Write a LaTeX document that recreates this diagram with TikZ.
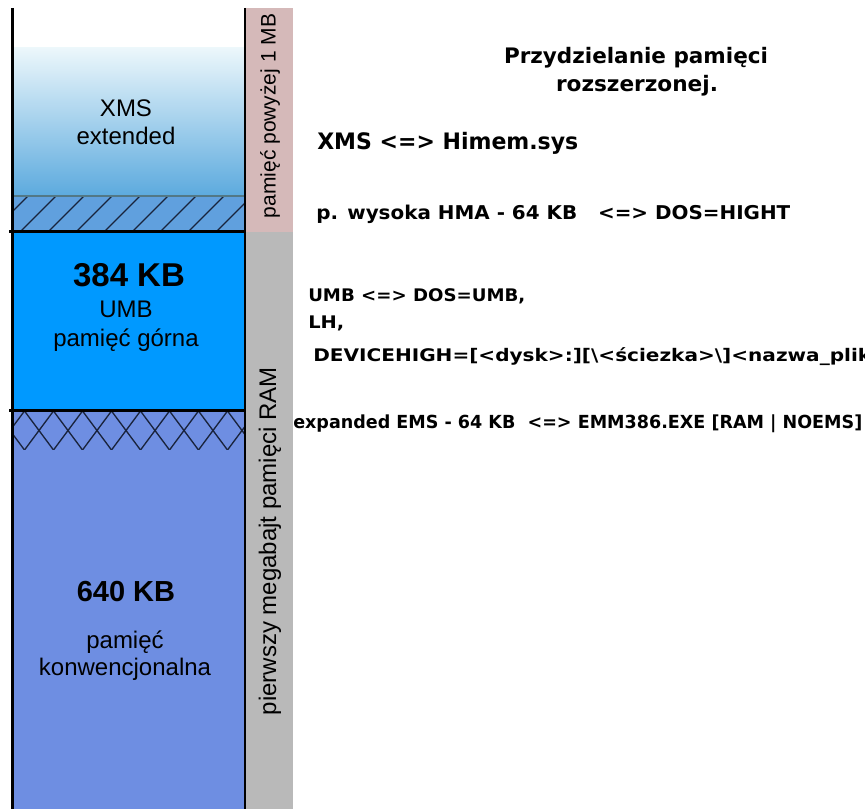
\documentclass[tikz,border=0pt]{standalone}
\usepackage{fontspec}
\usepackage{graphicx}
\setmainfont{Liberation Sans}
\newfontfamily\pixfont{DejaVu Sans}

\definecolor{xmstop}{RGB}{236,247,251}
\definecolor{xmsbot}{RGB}{92,170,222}
\definecolor{hmafill}{RGB}{96,160,222}
\definecolor{hmaline}{RGB}{82,120,134}
\definecolor{umbfill}{RGB}{0,153,255}
\definecolor{convfill}{RGB}{110,142,226}
\definecolor{pinkbar}{RGB}{213,185,185}
\definecolor{graybar}{RGB}{185,185,185}
\definecolor{hatchcol}{RGB}{25,35,60}

\newcommand{\fs}[1]{\fontsize{#1}{#1}\selectfont}
\newcommand{\wtext}[2]{\resizebox{#1}{\height}{#2}}

\begin{document}
\begin{tikzpicture}[x=0.75pt, y=-0.75pt,
  lbl/.style={anchor=base, inner sep=0pt},
  cmd/.style={anchor=base west, inner sep=0pt}]

\useasboundingbox (0,0) rectangle (865,809);
\fill[white] (0,0) rectangle (865,809);

% memory column
\shade[top color=xmstop, bottom color=xmsbot] (12,48) rectangle (245,196);
\fill[hmafill] (12,196) rectangle (245,232);
\fill[umbfill] (12,232) rectangle (245,410);
\fill[convfill] (12,410) rectangle (245,809);

% HMA hatch
\begin{scope}
  \clip (12,197) rectangle (245,232);
  \foreach \i in {0,...,9}
    \draw[hatchcol, line width=1pt] (\i*28-8,232) -- ++(36,-36);
\end{scope}
\draw[hmaline, line width=1.5pt] (12,196) -- (245,196);

% EMS cross hatch
\begin{scope}
  \clip (12,411) rectangle (245,450);
  \foreach \i in {0,...,8}
    \draw[hatchcol, line width=1pt] (\i*29-4.5,411) -- ++(29,39)
                                     (\i*29+24.5,411) -- ++(-29,39);
\end{scope}

% side bars
\fill[pinkbar] (245,8) rectangle (293,232);
\fill[graybar] (245,232) rectangle (293,809);

% borders
\draw[line width=2.25pt] (12,8) -- (12,809);
\draw[line width=1.5pt] (245,8) -- (245,809);
\draw[line width=2.25pt] (9,232) -- (245,232);
\draw[line width=2.25pt] (9,410.5) -- (245,410.5);

% column labels
\node[lbl, font=\fs{18pt}] (xmsa) at (126,117) {XMS};
\node[lbl, font=\fs{18pt}] (xmsb) at (126,145) {extended};
\node[lbl, font=\bfseries\fs{24.75pt}] (umbsize) at (129,287) {384 KB};
\node[lbl, font=\fs{18pt}] (umba) at (126,318) {UMB};
\node[lbl, font=\fs{18pt}] (umbb) at (126,347) {pamięć górna};
\node[lbl, font=\bfseries\fs{21.75pt}] (convsize) at (126,601) {640 KB};
\node[lbl, font=\fs{18pt}] (conva) at (125,648) {pamięć};
\node[lbl, font=\fs{18pt}] (convb) at (125,675) {konwencjonalna};

\node[rotate=90, inner sep=0pt, font=\fs{15.75pt}] (above1mb) at (270,116) {pamięć powyżej 1 MB};
\node[rotate=90, inner sep=0pt, font=\fs{18pt}] (firstmb) at (270,541) {pierwszy megabajt pamięci RAM};

% commands
\begin{scope}
\clip (0,0) rectangle (865,809);
\node[lbl, font=\pixfont\bfseries\fs{16pt}] (titlea) at (636,64) {\wtext{198pt}{Przydzielanie pamięci}};
\node[lbl, font=\pixfont\bfseries\fs{16pt}] (titleb) at (637,92) {\wtext{121.5pt}{rozszerzonej.}};
\node[cmd, font=\pixfont\bfseries\fs{17pt}] (himem) at (317,150) {\wtext{195.75pt}{XMS <=> Himem.sys}};
\node[cmd, font=\pixfont\bfseries\fs{14.25pt}] (hma) at (316,220) {\wtext{355.5pt}{p. wysoka HMA - 64 KB~~~<=> DOS=HIGHT}};
\node[cmd, font=\pixfont\bfseries\fs{13pt}] (umbcmd) at (308,302) {\wtext{162.75pt}{UMB <=> DOS=UMB,}};
\node[cmd, font=\pixfont\bfseries\fs{13pt}] (lhcmd) at (308,329) {\wtext{27pt}{LH,}};
\node[cmd, font=\pixfont\bfseries\fs{13pt}] (devhigh) at (313,362) {\wtext{441.75pt}{DEVICEHIGH=[<dysk>:][\textbackslash<ściezka>\textbackslash]<nazwa\_pliku>}};
\node[cmd, font=\pixfont\bfseries\fs{13.5pt}] (emscmd) at (293,429) {\wtext{426.75pt}{expanded EMS - 64 KB~~<=> EMM386.EXE [RAM | NOEMS]}};
\end{scope}

\end{tikzpicture}
\end{document}
